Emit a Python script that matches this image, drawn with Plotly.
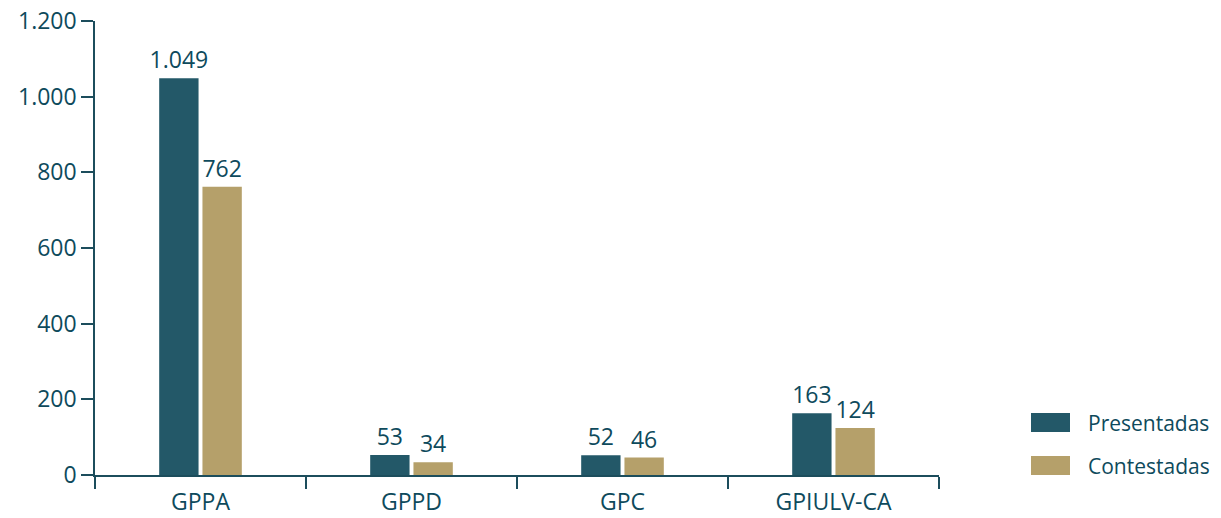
import plotly.graph_objects as go

categories = ["GPPA", "GPPD", "GPC", "GPIULV-CA"]
presentadas = [1049, 53, 52, 163]
contestadas = [762, 34, 46, 124]
series_names = ["Presentadas", "Contestadas"]
y_ticks = [0, 200, 400, 600, 800, 1000, 1200]

DARK = "#235868"
GOLD = "#b5a06a"
TXT = "#0e4a5c"
FONT = "Open Sans"

fig = go.Figure()
for name, vals, col in [(series_names[0], presentadas, DARK), (series_names[1], contestadas, GOLD)]:
    fig.add_trace(go.Bar(
        x=categories, y=vals, name=name, marker=dict(color=col, line=dict(width=0)),
        texttemplate="%{y:,}", textposition="outside", cliponaxis=False,
        constraintext="none",
        textfont=dict(family=FONT, size=23, color=TXT), showlegend=False,
    ))

fig.update_layout(
    width=1221, height=518,
    margin=dict(l=95, r=282, t=21, b=43, autoexpand=False),
    paper_bgcolor="white", plot_bgcolor="white",
    barmode="group", bargap=0.59, bargroupgap=0.09,
    separators=",.",
    font=dict(family=FONT, size=21, color=TXT),
    xaxis=dict(
        showline=True, linecolor="#1c4d5c", linewidth=1.5, automargin=False,
        ticks="outside", tickson="boundaries", ticklen=12, tickcolor="#1c4d5c", tickwidth=1.5,
        ticklabelstandoff=6, ticklabeloverflow="allow",
        tickfont=dict(family=FONT, size=23, color=TXT), showgrid=False,
    ),
    yaxis=dict(
        range=[0, 1200.01], tickvals=y_ticks, tickformat=",d", separatethousands=True,
        showline=True, linecolor="#1c4d5c", linewidth=1.5, automargin=False,
        ticks="outside", ticklen=12, tickcolor="#1c4d5c", tickwidth=1.5,
        ticklabeloverflow="allow",
        tickfont=dict(family=FONT, size=23, color=TXT), showgrid=False, zeroline=False,
    ),
)

# Legend drawn as swatches + labels
legend_items = [(series_names[0], DARK, 0.1156), (series_names[1], GOLD, 0.0209)]
for name, col, yc in legend_items:
    fig.add_shape(type="rect", xref="paper", yref="paper",
                  x0=(1031 - 95) / 844, x1=(1070 - 95) / 844,
                  y0=yc - 9.5 / 454, y1=yc + 9.5 / 454,
                  fillcolor=col, line=dict(width=0))
    fig.add_annotation(xref="paper", yref="paper", x=(1086 - 95) / 844, y=yc,
                       text=name, showarrow=False, xanchor="left", yanchor="middle",
                       font=dict(family=FONT, size=21, color=TXT))

fig.write_html("out.html", config={"displayModeBar": False},
               post_script="document.body.style.margin='0';")
